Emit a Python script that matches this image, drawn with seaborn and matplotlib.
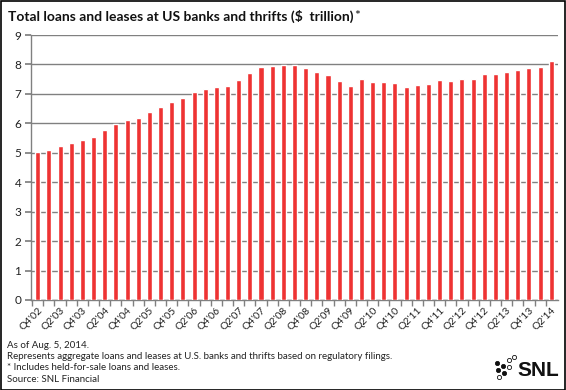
import matplotlib
matplotlib.use("Agg")
import matplotlib.pyplot as plt
import numpy as np
import pandas as pd
import seaborn as sns
from matplotlib.patches import Rectangle

# Quarterly totals, Q4'02 .. Q2'14 ($ trillion)
quarters = ["Q4'02"] + [f"Q{q}'{y:02d}" for y in range(3, 14) for q in range(1, 5)] + ["Q1'14", "Q2'14"]
loans = [
    5.03, 5.11, 5.24, 5.33, 5.42, 5.54, 5.78, 5.98, 6.11, 6.19,
    6.39, 6.56, 6.71, 6.86, 7.05, 7.16, 7.23, 7.26, 7.46, 7.70,
    7.90, 7.95, 7.99, 7.99, 7.89, 7.74, 7.64, 7.43, 7.28, 7.51,
    7.40, 7.39, 7.38, 7.24, 7.31, 7.34, 7.48, 7.43, 7.51, 7.52,
    7.69, 7.66, 7.73, 7.81, 7.89, 7.92, 8.11,
]
yticks = list(range(0, 10))
footnotes = [
    "As of Aug. 5, 2014.",
    "Represents aggregate loans and leases at U.S. banks and thrifts based on regulatory filings.",
    "* Includes held-for-sale loans and leases.",
    "Source: SNL Financial",
]

df = pd.DataFrame({"quarter": quarters, "loans": loans})

sns.set_theme(style="white")
plt.rcParams["font.family"] = ["Lato", "DejaVu Sans"]

fig = plt.figure(figsize=(5.66, 3.90), dpi=100)
ax = fig.add_axes([31 / 566, 1 - 300 / 390, 527 / 566, 265 / 390])

sns.barplot(data=df, x="quarter", y="loans", order=quarters, color="#ee3333",
            saturation=1, width=0.45, ax=ax, zorder=3)

ax.set_ylim(0, 9)
ax.set_xlim(-0.6, len(quarters) - 0.4)
ax.set_yticks(yticks)
ax.set_yticklabels([str(t) for t in yticks], fontsize=8.5, color="#222222")
ax.yaxis.grid(True, color="#808080", linewidth=1)
ax.set_axisbelow(True)
ax.tick_params(axis="y", length=4, color="#808080", pad=3, left=True)

ax.set_xticks(np.arange(len(quarters)) - 0.5, minor=True)
ax.set_xticks(np.arange(0, len(quarters), 2))
ax.set_xticklabels(quarters[::2], rotation=45, ha="right", rotation_mode="anchor",
                   fontsize=7.5, color="#222222")
ax.tick_params(axis="x", which="major", length=0, pad=4)
ax.tick_params(axis="x", which="minor", length=4, color="#808080", bottom=True)

for side in ["top", "right"]:
    ax.spines[side].set_visible(False)
for side in ["left", "bottom"]:
    ax.spines[side].set_color("#808080")
    ax.spines[side].set_linewidth(1)
ax.set_xlabel("")
ax.set_ylabel("")

title = fig.text(8 / 566, 1 - 16 / 390, "Total loans and leases at US banks and thrifts ($  trillion)",
                 fontsize=10, fontweight="bold", va="center", ha="left", color="#111111")
fig.canvas.draw()
bb = title.get_window_extent().transformed(fig.transFigure.inverted())
fig.text(bb.x1 + 1 / 566, 1 - 16 / 390, "*", fontsize=10, va="center", ha="left", color="#111111")

for i, line in enumerate(footnotes):
    fig.text(7 / 566, 1 - (345 + i * 11.5) / 390, line, fontsize=7, va="center",
             ha="left", color="#222222")

# SNL logo
fig.text(559 / 566, 1 - 370 / 390, "SNL", fontsize=15, fontweight="bold", ha="right",
         va="center", color="#111111", family="Liberation Sans")
dots = [(497, 363, True), (503, 366, True), (498, 370, True), (504, 373, True),
        (509, 360, False), (514, 357, False), (499, 377, False), (509, 367, False)]
for dx, dy, filled in dots:
    fig.add_artist(plt.Line2D([dx / 566], [1 - dy / 390], marker="o", markersize=3,
                              markerfacecolor="#111111" if filled else "white",
                              markeredgecolor="#111111", markeredgewidth=0.6,
                              transform=fig.transFigure))

fig.add_artist(Rectangle((0.001, 0.001), 0.997, 0.997, transform=fig.transFigure,
                         fill=False, edgecolor="black", linewidth=1.2))

fig.savefig("out.png", dpi=100)
